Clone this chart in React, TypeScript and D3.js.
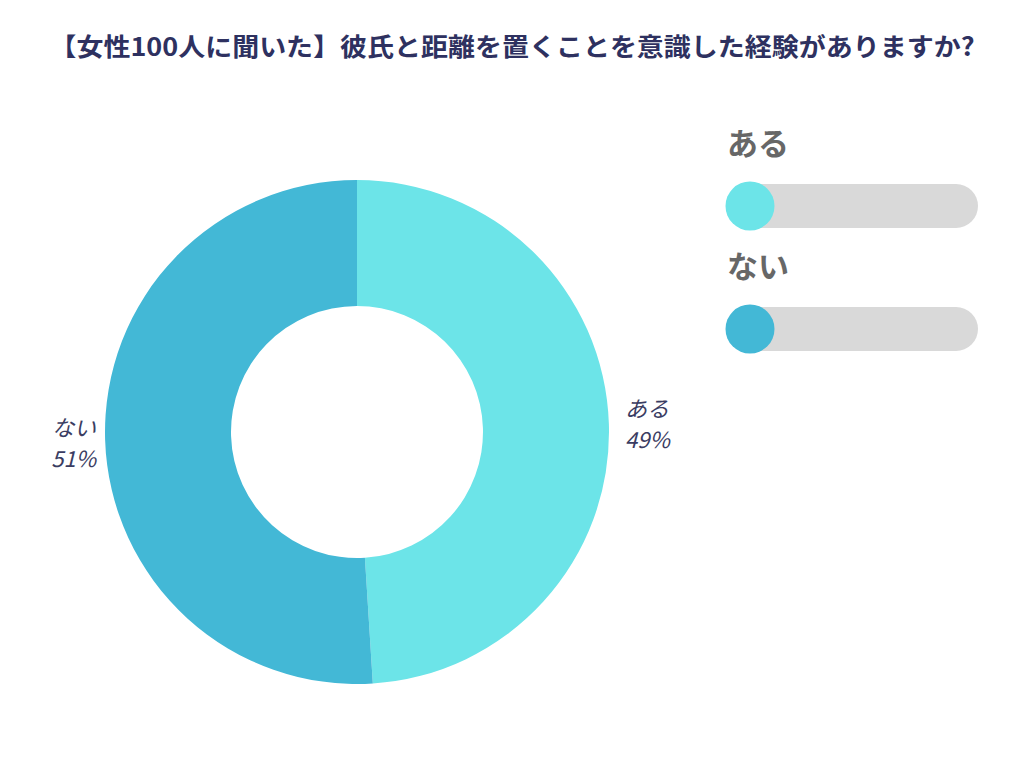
import React from "react";
import * as d3 from "d3";

const categories = ["ある", "ない"];
const values = [49, 51];
const colors = ["#6ce4e8", "#43b8d6"];
const title = "【女性100人に聞いた】彼氏と距離を置くことを意識した経験がありますか?";

export default function App() {
  const W = 1024, H = 768;
  const cx = 357, cy = 432, R = 252, r = 126;
  const pie = d3.pie<number>().sort(null).value((d) => d)(values);
  const arc = d3.arc<d3.PieArcDatum<number>>().innerRadius(r).outerRadius(R);
  const font = "'Noto Sans CJK JP', 'Noto Sans', sans-serif";
  const labelPos = [
    { x: 625, y: 417, anchor: "start" },
    { x: 96, y: 436, anchor: "end" },
  ];
  const legendY = d3.scaleBand<string>().domain(categories).range([120, 366]);
  return (
    <svg width={W} height={H} style={{ position: "absolute", left: 0, top: 0, background: "#fff" }}>
      <text x={512} y={56} textAnchor="middle" fontFamily={font} fontWeight={700} fontSize={25} fill="#2e3160"
        textLength={925} lengthAdjust="spacingAndGlyphs">
        {title}
      </text>
      <g transform={`translate(${cx},${cy})`}>
        {pie.map((p, i) => (
          <path key={i} d={arc(p) || ""} fill={colors[i]} />
        ))}
      </g>
      {categories.map((c, i) => (
        <g key={c} fontFamily={font} fontStyle="italic" fontSize={22} fill="#3a3c62" textAnchor={labelPos[i].anchor as any}>
          <text x={labelPos[i].x} y={labelPos[i].y}>{c}</text>
          <text x={labelPos[i].x} y={labelPos[i].y + 31}>{values[i]}%</text>
        </g>
      ))}
      {categories.map((c, i) => {
        const y0 = legendY(c)!;
        return (
          <g key={"l" + c}>
            <text x={727} y={y0 + 35} fontFamily={font} fontWeight={700} fontSize={31} fill="#676767">{c}</text>
            <rect x={726} y={y0 + 64} width={252} height={44} rx={22} fill="#d9d9d9" />
            <circle cx={750} cy={y0 + 86} r={24.5} fill={colors[i]} />
          </g>
        );
      })}
    </svg>
  );
}
